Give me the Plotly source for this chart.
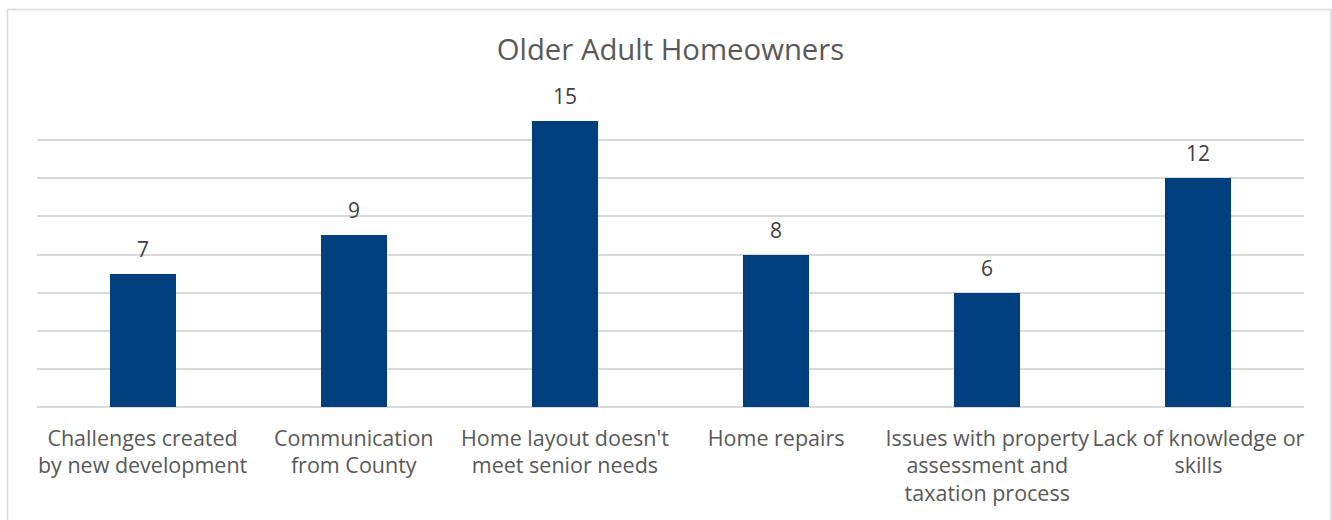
import plotly.graph_objects as go

categories = [
    "Challenges created<br>by new development",
    "Communication<br>from County",
    "Home layout doesn't<br>meet senior needs",
    "Home repairs",
    "Issues with property<br>assessment and<br>taxation process",
    "Lack of knowledge or<br>skills",
]
values = [7, 9, 15, 8, 6, 12]
title_text = "Older Adult Homeowners"

W, H = 1332, 520
ml, mr, mt, mb = 37, 28, 102, 113
pw = W - ml - mr
ph = H - mt - mb

fig = go.Figure()
fig.add_trace(go.Bar(
    x=categories, y=values,
    marker=dict(color="#003F7D", line=dict(width=0)),
    width=0.313,
    hoverinfo="skip",
))

for c, v in zip(categories, values):
    fig.add_annotation(
        x=c, y=v, text=str(v), showarrow=False,
        yanchor="bottom", yshift=9,
        font=dict(family="Open Sans", size=21, color="#404040"),
    )

# outer border
fig.add_shape(
    type="rect", xref="paper", yref="paper",
    x0=(7.5 - ml) / pw, x1=(1331 - ml) / pw,
    y0=-0.6, y1=(H - mb - 9.5) / ph,
    line=dict(color="#D9D9D9", width=1.5),
    fillcolor="rgba(0,0,0,0)",
)

fig.update_layout(
    width=W, height=H,
    margin=dict(l=ml, r=mr, t=mt, b=mb),
    paper_bgcolor="white", plot_bgcolor="white",
    showlegend=False,
    bargap=0,
    title=dict(
        text=title_text, x=(670.5) / W, xanchor="center",
        y=1 - 50 / H, yanchor="middle", yref="container", xref="container",
        font=dict(family="Open Sans", size=29.3, color="#595959"),
    ),
    font=dict(family="Open Sans", color="#595959"),
)
fig.update_xaxes(
    showgrid=False, showline=False, ticks="",
    tickfont=dict(family="Open Sans", size=21.5, color="#595959"),
    tickangle=0, ticklabelstandoff=16,
)
fig.update_yaxes(
    range=[0, 16], dtick=2, showticklabels=False,
    showgrid=True, gridcolor="#D9D9D9", gridwidth=1.5,
    zeroline=True, zerolinecolor="#D9D9D9", zerolinewidth=1.5,
    showline=False,
)

fig.write_html("out.html")
